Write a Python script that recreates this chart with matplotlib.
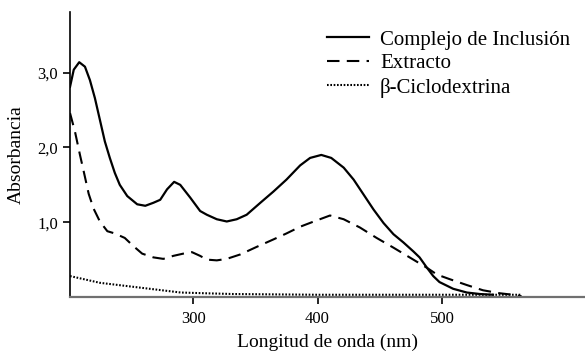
import matplotlib
matplotlib.use("Agg")
import matplotlib.pyplot as plt

plt.rcParams['font.family'] = ['Liberation Serif', 'DejaVu Serif']

# espectros UV-Vis (longitud de onda en nm, absorbancia)
wl_complejo = [201, 204, 208.4, 213, 217, 221, 225, 229, 233, 237, 241, 247, 255, 261.5,
               268, 273.5, 279, 284.7, 289.6, 297.6, 305.6, 311, 319, 327, 335, 343,
               354, 364.5, 375, 386, 394, 403, 411, 421, 429, 437, 445, 453, 461,
               469, 477, 482, 488, 493, 498, 509, 520, 530.5, 541]
abs_complejo = [2.81, 3.04, 3.14, 3.08, 2.90, 2.66, 2.37, 2.08, 1.86, 1.66, 1.50, 1.35, 1.24, 1.22,
                1.26, 1.30, 1.44, 1.54, 1.50, 1.33, 1.15, 1.10, 1.04, 1.01, 1.04, 1.10,
                1.26, 1.41, 1.57, 1.76, 1.86, 1.90, 1.86, 1.73, 1.57, 1.37, 1.17, 0.99, 0.84,
                0.73, 0.61, 0.53, 0.39, 0.28, 0.20, 0.11, 0.06, 0.04, 0.03]

wl_extracto = [201, 205, 209, 212, 216, 220, 225, 231, 237, 245, 252, 259, 268, 276,
               284, 292, 299, 305.6, 311, 319, 327, 338, 351, 364.5, 375, 386, 397,
               410, 421, 434, 447.5, 461, 474, 488, 496, 506, 520, 533, 546.6, 557, 564]
abs_extracto = [2.46, 2.21, 1.90, 1.68, 1.38, 1.18, 1.01, 0.88, 0.85, 0.79, 0.68, 0.58, 0.53, 0.51,
                0.55, 0.58, 0.60, 0.55, 0.50, 0.49, 0.51, 0.57, 0.67, 0.77, 0.85, 0.94, 1.01,
                1.09, 1.04, 0.93, 0.79, 0.66, 0.53, 0.39, 0.30, 0.24, 0.16, 0.09, 0.05, 0.03, 0.01]

wl_ciclo = [201, 225, 245, 265, 290, 310, 332, 400, 480, 563]
abs_ciclo = [0.28, 0.19, 0.15, 0.11, 0.06, 0.05, 0.04, 0.03, 0.03, 0.03]

xticks = [300, 400, 500]
yticks = [1.0, 2.0, 3.0]
ytick_labels = ["1,0", "2,0", "3,0"]

fig = plt.figure(figsize=(5.85, 3.56), dpi=100)
ax = fig.add_axes([0.1197, 0.1657, 0.8803, 0.8003])

ax.plot(wl_complejo, abs_complejo, color='black', lw=1.6, label='Complejo de Inclusión')
ax.plot(wl_extracto, abs_extracto, color='black', lw=1.5, dashes=(6, 3.5), label='Extracto')
ax.plot(wl_ciclo, abs_ciclo, color='black', lw=1.5, dashes=(0.8, 0.8), label='β-Ciclodextrina')

ax.set_xlim(201, 615)
ax.set_ylim(0, 3.81)
ax.set_xticks(xticks)
ax.set_yticks(yticks)
ax.set_yticklabels(ytick_labels)
ax.tick_params(axis='both', labelsize=12, length=5, width=1.2, color='black')
ax.tick_params(axis='x', pad=5)

for s in ['top', 'right']:
    ax.spines[s].set_visible(False)
ax.spines['left'].set_linewidth(1.2)
ax.spines['bottom'].set_linewidth(1.6)
ax.spines['bottom'].set_color('#707070')

ax.set_xlabel('Longitud de onda (nm)', fontsize=14, labelpad=5)
ax.set_ylabel('Absorbancia', fontsize=14, labelpad=9)

ax.legend(loc='upper left', bbox_to_anchor=(0.499, 0.937), frameon=False,
          fontsize=15, handlelength=2.0, handletextpad=0.55, labelspacing=0.2,
          borderpad=0, borderaxespad=0)

fig.savefig('out.png', dpi=100)
